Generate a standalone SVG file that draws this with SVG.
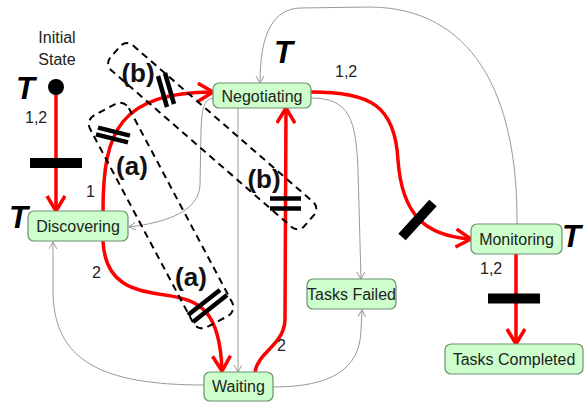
<svg xmlns="http://www.w3.org/2000/svg" width="584" height="403" viewBox="0 0 584 403">
  <style>
    .node rect { fill: #ccffcc; stroke: #6f8f6f; stroke-width: 1.2; }
    .node text { font-family: "Liberation Sans", Arial, sans-serif; font-size: 16px; fill: #222; text-anchor: middle; }
    .red { fill: none; stroke: #ff0000; stroke-width: 3.5; marker-end: url(#redArrow); }
    .grey { fill: none; stroke: #9a9a9a; stroke-width: 1; marker-end: url(#greyArrow); }
    .bar { stroke: #000; stroke-width: 4.5; }
    .thickbar { stroke: #000; stroke-width: 10; }
    .region { fill: none; stroke: #000; stroke-width: 2; stroke-dasharray: 7 5; }
    .lbl { font-family: "Liberation Sans", Arial, sans-serif; font-size: 16px; fill: #222; }
    .big { font-family: "Liberation Sans", Arial, sans-serif; font-size: 26px; font-weight: bold; fill: #111; text-anchor: middle; }
    .tee { font-family: "Liberation Sans", Arial, sans-serif; font-size: 31px; font-weight: bold; font-style: italic; fill: #000; }
  </style>
  <defs>
    <marker id="redArrow" markerUnits="userSpaceOnUse" markerWidth="24" markerHeight="24" refX="16" refY="10" orient="auto">
      <path d="M1,1 L16,10 L1,19" fill="none" stroke="#ff0000" stroke-width="3.5"/>
    </marker>
    <marker id="greyArrow" markerUnits="userSpaceOnUse" markerWidth="10" markerHeight="10" refX="7" refY="4" orient="auto">
      <path d="M0,0 L7,4 L0,8" fill="none" stroke="#9a9a9a" stroke-width="1"/>
    </marker>
  </defs>

  <!-- initial state -->
  <g id="initial">
    <text class="lbl" x="57" y="43" text-anchor="middle">Initial</text>
    <text class="lbl" x="57" y="65" text-anchor="middle">State</text>
    <circle cx="56" cy="87" r="8" fill="#000"/>
  </g>

  <!-- connectors -->
  <g id="connectors">
    <!-- thin grey transitions -->
    <path class="grey" d="M517,224 C518,90 470,8 370,7 L300,8 C275,9 260,30 260,83"/>
    <path class="grey" d="M311,98 C350,98 356,120 358,170 L361,279"/>
    <path class="grey" d="M238,108 L238,372"/>
    <path class="grey" d="M213,98 C203,100 202,110 201,130 L200,185 C199,210 170,222 129,227"/>
    <path class="grey" d="M204,385 C100,385 53,360 53,290 L53,242"/>
    <path class="grey" d="M273,387 C330,387 360,370 361,330 L362,310"/>

    <!-- thick red transitions -->
    <path class="red" d="M56,95 L56,211"/>
    <path class="red" d="M103,211 C103,130 120,93 213,92"/>
    <path class="red" d="M103,241 C105,285 135,291 165,295 C200,300 220,310 222,371"/>
    <path class="red" d="M255,372 C258,352 284,345 285,320 L286,108"/>
    <path class="red" d="M311,92 C370,92 395,105 398,160 C402,215 425,236 471,239"/>
    <path class="red" d="M516,254 L516,344"/>

    <!-- blocking bars -->
    <line class="thickbar" x1="30" y1="163" x2="82" y2="163"/>
    <line class="thickbar" x1="402" y1="237" x2="433" y2="203"/>
    <line class="thickbar" x1="488" y1="298.5" x2="540" y2="298.5"/>

    <!-- double bars -->
    <line class="bar" x1="98" y1="127.6" x2="130" y2="135.6"/>
    <line class="bar" x1="96" y1="134.4" x2="128" y2="142.4"/>
    <line class="bar" x1="158" y1="76" x2="167" y2="107"/>
    <line class="bar" x1="165" y1="73" x2="174" y2="104"/>
    <line class="bar" x1="270" y1="198.5" x2="301" y2="198.5"/>
    <line class="bar" x1="270" y1="208.5" x2="301" y2="208.5"/>
    <line class="bar" x1="188" y1="315" x2="220" y2="290"/>
    <line class="bar" x1="193" y1="322" x2="227" y2="295"/>
  </g>

  <!-- dashed regions -->
  <g id="regions">
    <rect class="region" x="121" y="-53" width="257" height="33" rx="9" transform="rotate(41)"/>
    <rect class="region" x="146" y="-63" width="240" height="44" rx="10" transform="rotate(62)"/>
  </g>

  <!-- states -->
  <g id="discovering" class="node">
    <rect x="28" y="211" width="100" height="30" rx="6"/>
    <text x="78" y="232">Discovering</text>
  </g>
  <g id="negotiating" class="node">
    <rect x="213" y="83" width="98" height="25" rx="6"/>
    <text x="262" y="102">Negotiating</text>
  </g>
  <g id="waiting" class="node">
    <rect x="204" y="372" width="69" height="29" rx="6"/>
    <text x="238.5" y="392">Waiting</text>
  </g>
  <g id="tasks-failed" class="node">
    <rect x="307" y="279" width="89" height="30" rx="6"/>
    <text x="351.5" y="300">Tasks Failed</text>
  </g>
  <g id="monitoring" class="node">
    <rect x="471" y="224" width="91" height="30" rx="6"/>
    <text x="516.5" y="245">Monitoring</text>
  </g>
  <g id="tasks-completed" class="node">
    <rect x="445" y="344" width="138" height="30" rx="6"/>
    <text x="514" y="365">Tasks Completed</text>
  </g>

  <!-- labels -->
  <g id="labels">
    <text class="tee" x="16" y="99">T</text>
    <text class="tee" x="9" y="228">T</text>
    <text class="tee" x="274" y="63">T</text>
    <text class="tee" x="562" y="247">T</text>

    <text class="lbl" x="25" y="123">1,2</text>
    <text class="lbl" x="335" y="77">1,2</text>
    <text class="lbl" x="480" y="274">1,2</text>
    <text class="lbl" x="86" y="197">1</text>
    <text class="lbl" x="92" y="278">2</text>
    <text class="lbl" x="277" y="351">2</text>

    <text class="big" x="138" y="82">(b)</text>
    <text class="big" x="132" y="175">(a)</text>
    <text class="big" x="264" y="188">(b)</text>
    <text class="big" x="191" y="286">(a)</text>
  </g>
</svg>
